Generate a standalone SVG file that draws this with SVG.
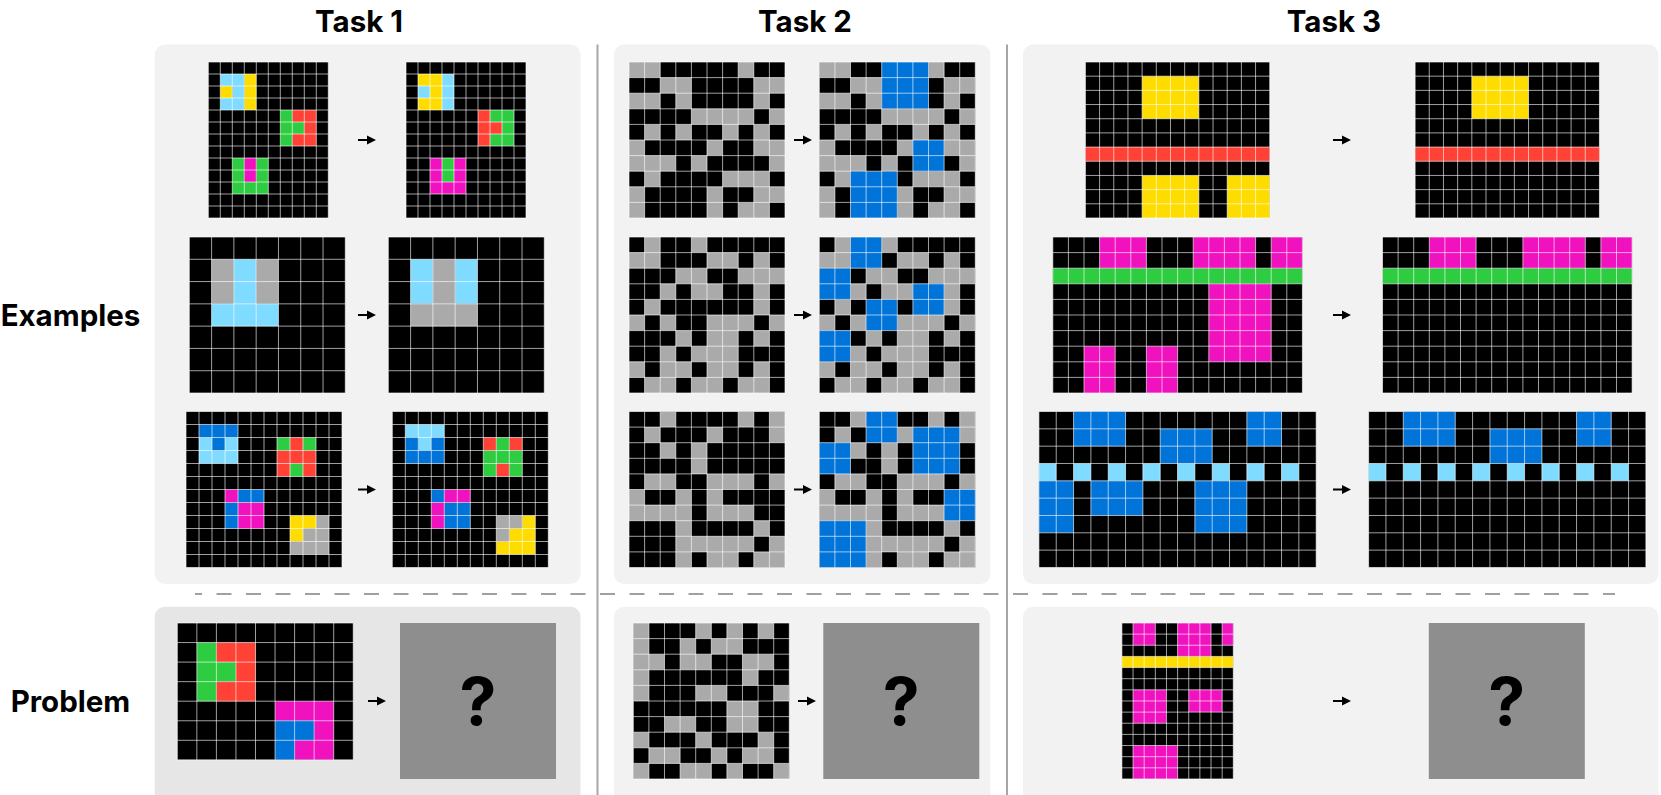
<svg xmlns="http://www.w3.org/2000/svg" width="1661" height="795" viewBox="0 0 1661 795">
<style>
.k{fill:#000}.g{fill:#aaa}.lb{fill:#7fdbff}.y{fill:#ffdc00}.r{fill:#ff4136}.gr{fill:#2ecc40}.m{fill:#f012be}.b{fill:#0074d9}
.gl{fill:none;stroke:#fff;stroke-opacity:.62;stroke-width:1;vector-effect:non-scaling-stroke}
.panel{fill:#f2f2f2}.panel2{fill:#e6e6e6}
.ttl{font-family:Inter,"Noto Sans","Liberation Sans",sans-serif;font-weight:700;font-size:29.5px;fill:#000;text-anchor:middle}
.q{font-family:Inter,"Noto Sans","Liberation Sans",sans-serif;font-weight:700;font-size:66px;fill:#000;text-anchor:middle}
.qbox{fill:#8e8e8e}
.sep{stroke:#a6a6a6;stroke-width:2;fill:none}
.dash{stroke:#a0a0a0;stroke-width:2;fill:none;stroke-dasharray:15 14.5}
</style>
<defs>
<path id="arr" d="M0,-1H9V-4.6L18,0L9,4.6V1H0Z" fill="#000"/>
<path id="g10x13" class="gl" d="M0 0V13M1 0V13M2 0V13M3 0V13M4 0V13M5 0V13M6 0V13M7 0V13M8 0V13M9 0V13M10 0V13M0 0H10M0 1H10M0 2H10M0 3H10M0 4H10M0 5H10M0 6H10M0 7H10M0 8H10M0 9H10M0 10H10M0 11H10M0 12H10M0 13H10"/>
<path id="g7x7" class="gl" d="M0 0V7M1 0V7M2 0V7M3 0V7M4 0V7M5 0V7M6 0V7M7 0V7M0 0H7M0 1H7M0 2H7M0 3H7M0 4H7M0 5H7M0 6H7M0 7H7"/>
<path id="g12x12" class="gl" d="M0 0V12M1 0V12M2 0V12M3 0V12M4 0V12M5 0V12M6 0V12M7 0V12M8 0V12M9 0V12M10 0V12M11 0V12M12 0V12M0 0H12M0 1H12M0 2H12M0 3H12M0 4H12M0 5H12M0 6H12M0 7H12M0 8H12M0 9H12M0 10H12M0 11H12M0 12H12"/>
<path id="g9x7" class="gl" d="M0 0V7M1 0V7M2 0V7M3 0V7M4 0V7M5 0V7M6 0V7M7 0V7M8 0V7M9 0V7M0 0H9M0 1H9M0 2H9M0 3H9M0 4H9M0 5H9M0 6H9M0 7H9"/>
<path id="g10x10" class="gl" d="M0 0V10M1 0V10M2 0V10M3 0V10M4 0V10M5 0V10M6 0V10M7 0V10M8 0V10M9 0V10M10 0V10M0 0H10M0 1H10M0 2H10M0 3H10M0 4H10M0 5H10M0 6H10M0 7H10M0 8H10M0 9H10M0 10H10"/>
<path id="g13x11" class="gl" d="M0 0V11M1 0V11M2 0V11M3 0V11M4 0V11M5 0V11M6 0V11M7 0V11M8 0V11M9 0V11M10 0V11M11 0V11M12 0V11M13 0V11M0 0H13M0 1H13M0 2H13M0 3H13M0 4H13M0 5H13M0 6H13M0 7H13M0 8H13M0 9H13M0 10H13M0 11H13"/>
<path id="g16x10" class="gl" d="M0 0V10M1 0V10M2 0V10M3 0V10M4 0V10M5 0V10M6 0V10M7 0V10M8 0V10M9 0V10M10 0V10M11 0V10M12 0V10M13 0V10M14 0V10M15 0V10M16 0V10M0 0H16M0 1H16M0 2H16M0 3H16M0 4H16M0 5H16M0 6H16M0 7H16M0 8H16M0 9H16M0 10H16"/>
<path id="g16x9" class="gl" d="M0 0V9M1 0V9M2 0V9M3 0V9M4 0V9M5 0V9M6 0V9M7 0V9M8 0V9M9 0V9M10 0V9M11 0V9M12 0V9M13 0V9M14 0V9M15 0V9M16 0V9M0 0H16M0 1H16M0 2H16M0 3H16M0 4H16M0 5H16M0 6H16M0 7H16M0 8H16M0 9H16"/>
<path id="g10x14" class="gl" d="M0 0V14M1 0V14M2 0V14M3 0V14M4 0V14M5 0V14M6 0V14M7 0V14M8 0V14M9 0V14M10 0V14M0 0H10M0 1H10M0 2H10M0 3H10M0 4H10M0 5H10M0 6H10M0 7H10M0 8H10M0 9H10M0 10H10M0 11H10M0 12H10M0 13H10M0 14H10"/>
</defs>
<rect width="1661" height="795" fill="#fff"/>

<g id="panels">
<rect class="panel" x="154.7" y="44.5" width="425.8" height="539.5" rx="10"/>
<rect class="panel" x="614" y="44.5" width="376.4" height="539.5" rx="10"/>
<rect class="panel" x="1023" y="44.5" width="635.5" height="539.5" rx="10"/>
<rect class="panel2" x="154.7" y="606.7" width="425.8" height="200" rx="10"/>
<rect class="panel" x="614" y="606.7" width="376.4" height="200" rx="10"/>
<rect class="panel" x="1023" y="606.7" width="635.5" height="200" rx="10"/>
</g>

<g id="separators">
<line class="sep" x1="597.5" y1="44.5" x2="597.5" y2="795"/>
<line class="sep" x1="1007" y1="44.5" x2="1007" y2="795"/>
<line class="dash" x1="195" y1="594" x2="1615" y2="594" stroke-dashoffset="8"/>
</g>

<g id="labels">
<text class="ttl" x="359" y="31.5">Task 1</text>
<text class="ttl" x="805" y="31.5">Task 2</text>
<text class="ttl" x="1334" y="31.5">Task 3</text>
<text class="ttl" x="70.5" y="326">Examples</text>
<text class="ttl" x="70.5" y="712">Problem</text>
</g>

<!-- Task 1 -->
<g id="t1e1in" transform="translate(208.3 62) scale(12)">
<rect class="k" width="10" height="13"/>
<path class="lb" d="M1 1h2v1h-2zM2 2h1v1h-1zM1 3h2v1h-2z"/>
<path class="y" d="M3 1h1v3h-1zM1 2h1v1h-1z"/>
<path class="gr" d="M6 4h1v3h-1zM7 5h1v1h-1zM2 8h1v3h-1zM4 8h1v3h-1zM3 10h1v1h-1z"/>
<path class="r" d="M7 4h2v1h-2zM8 5h1v1h-1zM7 6h2v1h-2z"/>
<path class="m" d="M3 8h1v2h-1z"/>
<use href="#g10x13"/>
</g>
<g id="t1e1out" transform="translate(406 62) scale(12)">
<rect class="k" width="10" height="13"/>
<path class="y" d="M1 1h2v1h-2zM2 2h1v1h-1zM1 3h2v1h-2z"/>
<path class="lb" d="M3 1h1v3h-1zM1 2h1v1h-1z"/>
<path class="r" d="M6 4h1v3h-1zM7 5h1v1h-1z"/>
<path class="gr" d="M7 4h2v1h-2zM8 5h1v1h-1zM7 6h2v1h-2zM3 8h1v2h-1z"/>
<path class="m" d="M2 8h1v3h-1zM4 8h1v3h-1zM3 10h1v1h-1z"/>
<use href="#g10x13"/>
</g>
<g id="t1e2in" transform="translate(189.3 237) scale(22.286)">
<rect class="k" width="7" height="7"/>
<path class="g" d="M1 1h1v2h-1zM3 1h1v2h-1z"/>
<path class="lb" d="M2 1h1v2h-1zM1 3h3v1h-3z"/>
<use href="#g7x7"/>
</g>
<g id="t1e2out" transform="translate(388.3 237) scale(22.286)">
<rect class="k" width="7" height="7"/>
<path class="lb" d="M1 1h1v2h-1zM3 1h1v2h-1z"/>
<path class="g" d="M2 1h1v2h-1zM1 3h3v1h-3z"/>
<use href="#g7x7"/>
</g>
<g id="t1e3in" transform="translate(186 411.5) scale(13)">
<rect class="k" width="12" height="12"/>
<path class="b" d="M1 1h3v1h-3zM2 2h1v1h-1zM4 6h2v1h-2zM3 7h1v2h-1z"/>
<path class="lb" d="M1 2h1v1h-1zM3 2h1v1h-1zM1 3h3v1h-3z"/>
<path class="gr" d="M7 2h1v1h-1zM9 2h1v1h-1zM8 4h1v1h-1z"/>
<path class="r" d="M8 2h1v1h-1zM7 3h3v1h-3zM7 4h1v1h-1zM9 4h1v1h-1z"/>
<path class="m" d="M3 6h1v1h-1zM4 7h2v2h-2z"/>
<path class="y" d="M8 8h2v1h-2zM8 9h1v1h-1z"/>
<path class="g" d="M10 8h1v1h-1zM9 9h2v1h-2zM8 10h3v1h-3z"/>
<use href="#g12x12"/>
</g>
<g id="t1e3out" transform="translate(392.3 411.5) scale(13)">
<rect class="k" width="12" height="12"/>
<path class="lb" d="M1 1h3v1h-3zM2 2h1v1h-1z"/>
<path class="b" d="M1 2h1v1h-1zM3 2h1v1h-1zM1 3h3v1h-3zM3 6h1v1h-1zM4 7h2v2h-2z"/>
<path class="r" d="M7 2h1v1h-1zM9 2h1v1h-1zM8 4h1v1h-1z"/>
<path class="gr" d="M8 2h1v1h-1zM7 3h3v1h-3zM7 4h1v1h-1zM9 4h1v1h-1z"/>
<path class="m" d="M4 6h2v1h-2zM3 7h1v2h-1z"/>
<path class="g" d="M8 8h2v1h-2zM8 9h1v1h-1z"/>
<path class="y" d="M10 8h1v1h-1zM9 9h2v1h-2zM8 10h3v1h-3z"/>
<use href="#g12x12"/>
</g>
<g id="t1pin" transform="translate(177.3 623) scale(19.55)">
<rect class="k" width="9" height="7"/>
<path class="gr" d="M1 1h1v3h-1zM2 2h1v1h-1z"/>
<path class="r" d="M2 1h2v1h-2zM3 2h1v1h-1zM2 3h2v1h-2z"/>
<path class="m" d="M5 4h3v1h-3zM7 5h1v1h-1zM6 6h2v1h-2z"/>
<path class="b" d="M5 5h2v1h-2zM5 6h1v1h-1z"/>
<use href="#g9x7"/>
</g>
<g id="t1pout">
<rect class="qbox" x="400" y="623" width="156" height="156"/>
<text class="q" x="478" y="725">?</text>
</g>

<!-- Task 2 -->
<g id="t2e1in" transform="translate(629 62) scale(15.6)">
<rect class="k" width="10" height="10"/>
<path class="g" d="M0 0h2v1h-2zM7 0h1v1h-1zM2 1h2v1h-2zM8 1h2v1h-2zM0 2h2v1h-2zM3 2h1v1h-1zM8 2h1v1h-1zM4 3h4v1h-4zM9 3h1v1h-1zM1 4h1v1h-1zM3 4h1v1h-1zM6 4h1v1h-1zM8 4h1v1h-1zM0 5h1v1h-1zM5 5h1v1h-1zM8 5h2v1h-2zM0 6h3v1h-3zM4 6h1v1h-1zM9 6h1v1h-1zM1 7h1v1h-1zM6 7h3v1h-3zM0 8h1v1h-1zM5 8h1v1h-1zM8 8h2v1h-2zM0 9h1v1h-1zM5 9h1v1h-1zM7 9h2v1h-2z"/>
<use href="#g10x10"/>
</g>
<g id="t2e1out" transform="translate(819.3 62) scale(15.6)">
<rect class="k" width="10" height="10"/>
<path class="g" d="M0 0h2v1h-2zM7 0h1v1h-1zM2 1h2v1h-2zM8 1h2v1h-2zM0 2h2v1h-2zM3 2h1v1h-1zM8 2h1v1h-1zM4 3h4v1h-4zM9 3h1v1h-1zM1 4h1v1h-1zM3 4h1v1h-1zM6 4h1v1h-1zM8 4h1v1h-1zM0 5h1v1h-1zM5 5h1v1h-1zM8 5h2v1h-2zM0 6h3v1h-3zM4 6h1v1h-1zM9 6h1v1h-1zM1 7h1v1h-1zM6 7h3v1h-3zM0 8h1v1h-1zM5 8h1v1h-1zM8 8h2v1h-2zM0 9h1v1h-1zM5 9h1v1h-1zM7 9h2v1h-2z"/>
<path class="b" d="M4 0h3v3h-3zM6 5h2v2h-2zM2 7h3v3h-3z"/>
<use href="#g10x10"/>
</g>
<g id="t2e2in" transform="translate(629 237) scale(15.6)">
<rect class="k" width="10" height="10"/>
<path class="g" d="M1 0h1v1h-1zM4 0h1v1h-1zM0 1h2v1h-2zM5 1h2v1h-2zM8 1h1v1h-1zM3 2h2v1h-2zM7 2h3v1h-3zM2 3h1v1h-1zM4 3h2v1h-2zM8 3h1v1h-1zM1 4h1v1h-1zM8 4h1v1h-1zM0 5h1v1h-1zM2 5h1v1h-1zM5 5h3v1h-3zM9 5h1v1h-1zM3 6h1v1h-1zM5 6h2v1h-2zM8 6h1v1h-1zM2 7h1v1h-1zM4 7h3v1h-3zM0 8h1v1h-1zM2 8h2v1h-2zM5 8h2v1h-2zM8 8h1v1h-1zM1 9h2v1h-2zM4 9h2v1h-2zM7 9h2v1h-2z"/>
<use href="#g10x10"/>
</g>
<g id="t2e2out" transform="translate(819.3 237) scale(15.6)">
<rect class="k" width="10" height="10"/>
<path class="g" d="M1 0h1v1h-1zM4 0h1v1h-1zM0 1h2v1h-2zM5 1h2v1h-2zM8 1h1v1h-1zM3 2h2v1h-2zM7 2h3v1h-3zM2 3h1v1h-1zM4 3h2v1h-2zM8 3h1v1h-1zM1 4h1v1h-1zM8 4h1v1h-1zM0 5h1v1h-1zM2 5h1v1h-1zM5 5h3v1h-3zM9 5h1v1h-1zM3 6h1v1h-1zM5 6h2v1h-2zM8 6h1v1h-1zM2 7h1v1h-1zM4 7h3v1h-3zM0 8h1v1h-1zM2 8h2v1h-2zM5 8h2v1h-2zM8 8h1v1h-1zM1 9h2v1h-2zM4 9h2v1h-2zM7 9h2v1h-2z"/>
<path class="b" d="M2 0h2v2h-2zM0 2h2v2h-2zM6 3h2v2h-2zM3 4h2v2h-2zM0 6h2v2h-2z"/>
<use href="#g10x10"/>
</g>
<g id="t2e3in" transform="translate(629 411.5) scale(15.6)">
<rect class="k" width="10" height="10"/>
<path class="g" d="M2 0h1v1h-1zM7 0h1v1h-1zM9 0h1v1h-1zM1 1h1v1h-1zM5 1h1v1h-1zM9 1h1v1h-1zM2 2h1v1h-1zM4 2h1v1h-1zM4 3h1v1h-1zM1 4h2v1h-2zM5 4h3v1h-3zM9 4h1v1h-1zM0 5h1v1h-1zM3 5h1v1h-1zM5 5h1v1h-1zM0 6h4v1h-4zM5 6h3v1h-3zM3 7h1v1h-1zM8 7h1v1h-1zM3 8h5v1h-5zM9 8h1v1h-1zM3 9h1v1h-1zM5 9h2v1h-2zM8 9h2v1h-2z"/>
<use href="#g10x10"/>
</g>
<g id="t2e3out" transform="translate(819.3 411.5) scale(15.6)">
<rect class="k" width="10" height="10"/>
<path class="g" d="M2 0h1v1h-1zM7 0h1v1h-1zM9 0h1v1h-1zM1 1h1v1h-1zM5 1h1v1h-1zM9 1h1v1h-1zM2 2h1v1h-1zM4 2h1v1h-1zM4 3h1v1h-1zM1 4h2v1h-2zM5 4h3v1h-3zM9 4h1v1h-1zM0 5h1v1h-1zM3 5h1v1h-1zM5 5h1v1h-1zM0 6h4v1h-4zM5 6h3v1h-3zM3 7h1v1h-1zM8 7h1v1h-1zM3 8h5v1h-5zM9 8h1v1h-1zM3 9h1v1h-1zM5 9h2v1h-2zM8 9h2v1h-2z"/>
<path class="b" d="M3 0h2v2h-2zM6 1h3v3h-3zM0 2h2v2h-2zM8 5h2v2h-2zM0 7h3v3h-3z"/>
<use href="#g10x10"/>
</g>
<g id="t2pin" transform="translate(633.3 623) scale(15.6)">
<rect class="k" width="10" height="10"/>
<path class="g" d="M0 0h1v1h-1zM4 0h1v1h-1zM6 0h1v1h-1zM8 0h1v1h-1zM0 1h1v1h-1zM3 1h1v1h-1zM5 1h2v1h-2zM0 2h2v1h-2zM3 2h2v1h-2zM7 2h2v1h-2zM0 3h1v1h-1zM7 3h1v1h-1zM0 4h1v1h-1zM4 4h2v1h-2zM9 4h1v1h-1zM6 5h2v1h-2zM2 6h2v1h-2zM6 6h2v1h-2zM0 7h1v1h-1zM4 7h1v1h-1zM8 7h1v1h-1zM1 8h2v1h-2zM5 8h1v1h-1zM7 8h2v1h-2zM0 9h1v1h-1zM3 9h2v1h-2zM6 9h1v1h-1zM9 9h1v1h-1z"/>
<use href="#g10x10"/>
</g>
<g id="t2pout">
<rect class="qbox" x="823.3" y="623" width="156" height="156"/>
<text class="q" x="901.3" y="725">?</text>
</g>

<!-- Task 3 -->
<g id="t3e1in" transform="translate(1085.4 62) scale(14.18)">
<rect class="k" width="13" height="11"/>
<path class="y" d="M4 1h4v3h-4zM4 8h4v3h-4zM10 8h3v3h-3z"/>
<path class="r" d="M0 6h13v1h-13z"/>
<use href="#g13x11"/>
</g>
<g id="t3e1out" transform="translate(1415.1 62) scale(14.18)">
<rect class="k" width="13" height="11"/>
<path class="y" d="M4 1h4v3h-4z"/>
<path class="r" d="M0 6h13v1h-13z"/>
<use href="#g13x11"/>
</g>
<g id="t3e2in" transform="translate(1052.8 237) scale(15.6)">
<rect class="k" width="16" height="10"/>
<path class="m" d="M3 0h3v2h-3zM9 0h4v2h-4zM14 0h2v2h-2zM10 3h4v5h-4zM2 7h2v3h-2zM6 7h2v3h-2z"/>
<path class="gr" d="M0 2h16v1h-16z"/>
<use href="#g16x10"/>
</g>
<g id="t3e2out" transform="translate(1382.5 237) scale(15.6)">
<rect class="k" width="16" height="10"/>
<path class="m" d="M3 0h3v2h-3zM9 0h4v2h-4zM14 0h2v2h-2z"/>
<path class="gr" d="M0 2h16v1h-16z"/>
<use href="#g16x10"/>
</g>
<g id="t3e3in" transform="translate(1038.9 411.5) scale(17.33)">
<rect class="k" width="16" height="9"/>
<path class="b" d="M2 0h3v2h-3zM12 0h2v2h-2zM7 1h3v2h-3zM0 4h2v3h-2zM3 4h3v2h-3zM9 4h3v3h-3z"/>
<path class="lb" d="M0 3h1v1h-1zM2 3h1v1h-1zM4 3h1v1h-1zM6 3h1v1h-1zM8 3h1v1h-1zM10 3h1v1h-1zM12 3h1v1h-1zM14 3h1v1h-1z"/>
<use href="#g16x9"/>
</g>
<g id="t3e3out" transform="translate(1368.6 411.5) scale(17.33)">
<rect class="k" width="16" height="9"/>
<path class="b" d="M2 0h3v2h-3zM12 0h2v2h-2zM7 1h3v2h-3z"/>
<path class="lb" d="M0 3h1v1h-1zM2 3h1v1h-1zM4 3h1v1h-1zM6 3h1v1h-1zM8 3h1v1h-1zM10 3h1v1h-1zM12 3h1v1h-1zM14 3h1v1h-1z"/>
<use href="#g16x9"/>
</g>
<g id="t3pin" transform="translate(1121.9 623) scale(11.14)">
<rect class="k" width="10" height="14"/>
<path class="m" d="M1 0h2v2h-2zM5 0h3v3h-3zM9 0h1v2h-1zM1 6h3v3h-3zM6 6h3v2h-3zM1 11h4v3h-4z"/>
<path class="y" d="M0 3h10v1h-10z"/>
<use href="#g10x14"/>
</g>
<g id="t3pout">
<rect class="qbox" x="1428.8" y="623" width="156" height="156"/>
<text class="q" x="1506.8" y="725">?</text>
</g>

<g id="connectors">
<use href="#arr" x="358" y="140"/>
<use href="#arr" x="358" y="315"/>
<use href="#arr" x="358" y="489.5"/>
<use href="#arr" x="368" y="701"/>
<use href="#arr" x="794" y="140"/>
<use href="#arr" x="794" y="315"/>
<use href="#arr" x="794" y="489.5"/>
<use href="#arr" x="798" y="701"/>
<use href="#arr" x="1333" y="140"/>
<use href="#arr" x="1333" y="315"/>
<use href="#arr" x="1333" y="489.5"/>
<use href="#arr" x="1333" y="701"/>
</g>
</svg>
